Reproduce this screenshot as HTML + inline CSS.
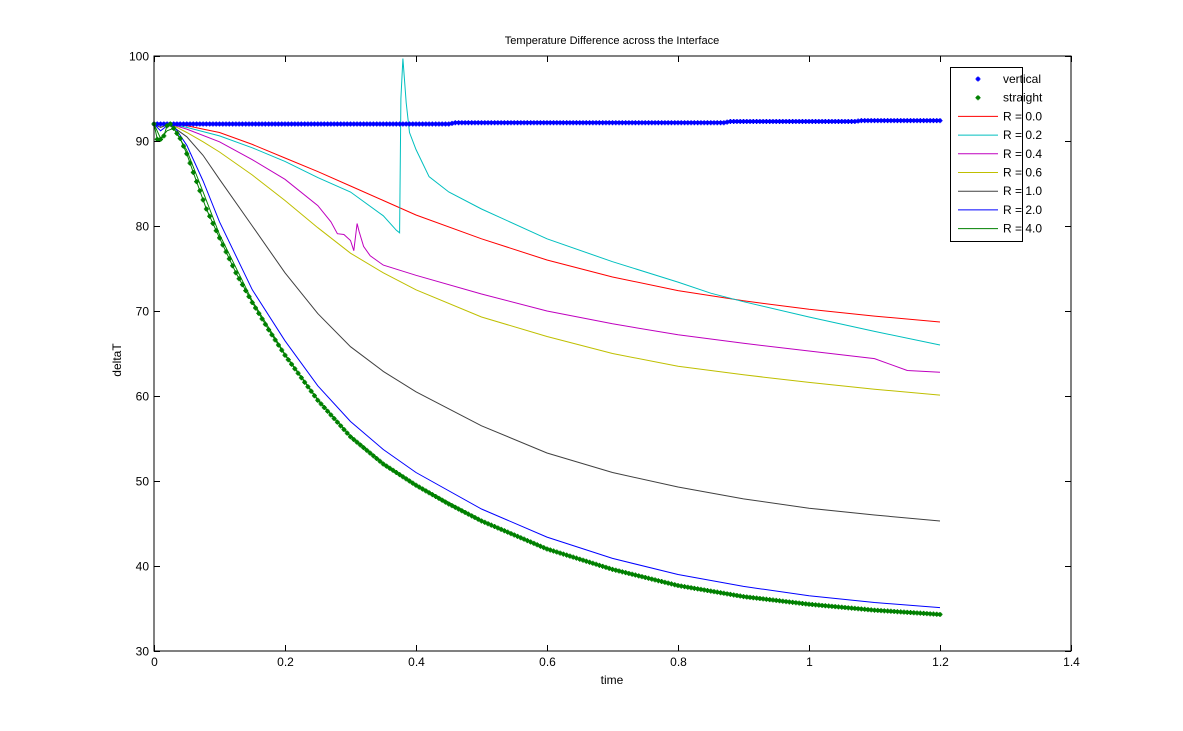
<!DOCTYPE html>
<html><head><meta charset="utf-8"><style>
html,body{margin:0;padding:0;background:#fff;}
svg{display:block;font-family:"Liberation Sans",Arial,sans-serif;}
</style></head><body>
<svg id="chart" width="1183" height="731" viewBox="0 0 1183 731" xmlns="http://www.w3.org/2000/svg">
<rect x="0" y="0" width="1183" height="731" fill="#fff"/>
<rect x="154" y="56" width="917" height="595" fill="#fff"/>
<g id="series"></g>
<g id="axes"></g>
<text x="612" y="44" font-size="11" text-anchor="middle">Temperature Difference across the Interface</text>
<text x="612" y="684" font-size="12" text-anchor="middle">time</text>
<text x="121" y="360" font-size="12" text-anchor="middle" transform="rotate(-90 121 360)">deltaT</text>
<g id="legend"></g>
</svg>
<script>
const xTicks=[0,0.2,0.4,0.6,0.8,1,1.2,1.4];
const yTicks=[30,40,50,60,70,80,90,100];
const legendLabels=["vertical","straight","R = 0.0","R = 0.2","R = 0.4","R = 0.6","R = 1.0","R = 2.0","R = 4.0"];
const tVertical=[0,0.2,0.4,0.45,0.46,0.6,0.8,0.87,0.88,1.0,1.07,1.08,1.2];
const vVertical=[92.0,92.0,92.0,92.0,92.15,92.15,92.15,92.15,92.3,92.3,92.3,92.4,92.4];
const tStraight=[0,0.005,0.01,0.015,0.02,0.025,0.03,0.04,0.05,0.06,0.08,0.1,0.125,0.15,0.175,0.2,0.25,0.3,0.35,0.4,0.45,0.5,0.6,0.7,0.8,0.9,1.0,1.1,1.2];
const vStraight=[92,90.2,90.2,90.6,91.8,92.0,91.5,90.3,88.5,86.3,82,78.6,74.5,71,67.8,64.8,59.5,55.2,52.0,49.5,47.3,45.3,42.0,39.6,37.7,36.4,35.5,34.8,34.3];
const tR=[0,0.01,0.02,0.03,0.05,0.075,0.1,0.15,0.2,0.25,0.3,0.35,0.4,0.5,0.6,0.7,0.8,0.9,1.0,1.1,1.2];
const vR00=[92,92,92.1,92.0,91.8,91.4,91.0,89.6,88.0,86.4,84.7,83.0,81.3,78.5,76.0,74.0,72.4,71.2,70.2,69.4,68.7];
const tR02=[0,0.02,0.05,0.1,0.15,0.2,0.25,0.3,0.35,0.37,0.375,0.377,0.38,0.385,0.39,0.4,0.42,0.45,0.5,0.6,0.7,0.8,0.85,0.9,1.0,1.1,1.2];
const vR02=[92,92.1,91.6,90.6,89.2,87.6,85.7,84.0,81.2,79.5,79.2,95.0,99.7,94.5,91.0,89.0,85.8,84.0,82.0,78.5,75.8,73.4,72.1,71.1,69.3,67.6,66.0];
const tR04=[0,0.02,0.05,0.1,0.15,0.2,0.25,0.27,0.28,0.29,0.3,0.305,0.31,0.313,0.32,0.33,0.35,0.4,0.5,0.6,0.7,0.8,0.9,1.0,1.1,1.15,1.2];
const vR04=[92,92.1,91.4,89.9,87.8,85.5,82.4,80.5,79.1,79.0,78.3,77.1,80.3,79.4,77.6,76.5,75.4,74.2,72.0,70.0,68.5,67.2,66.2,65.3,64.4,63.0,62.8];
const vR06=[92,92,92.1,91.8,91.0,89.9,88.7,86.0,83.0,79.8,76.8,74.5,72.5,69.3,67.0,65.0,63.5,62.5,61.6,60.8,60.1];
const vR10=[92,91.6,91.9,91.6,90.5,88.3,85.5,80.0,74.5,69.7,65.8,62.9,60.5,56.5,53.3,51.0,49.3,47.9,46.8,46.0,45.3];
const vR20=[92,91.2,91.8,91.8,89.5,85.3,80.5,72.5,66.5,61.2,57.0,53.7,51.0,46.7,43.4,40.9,39.0,37.6,36.5,35.7,35.1];
const vR40=[92,90.3,91.2,91.5,88.9,84.0,79.0,71.2,64.9,59.6,55.3,52.1,49.6,45.4,42.1,39.7,37.8,36.5,35.5,34.8,34.3];

const NS="http://www.w3.org/2000/svg";
const L=154,R=1071,T=56,B=651;
const xMin=0,xMax=1.4,yMin=30,yMax=100;
function sx(v){return L+(v-xMin)/(xMax-xMin)*(R-L);}
function sy(v){return B-(v-yMin)/(yMax-yMin)*(B-T);}
function mk(tag,attrs,parent){const e=document.createElementNS(NS,tag);for(const k in attrs)e.setAttribute(k,attrs[k]);parent.appendChild(e);return e;}
const axes=document.getElementById('axes');
const series=document.getElementById('series');
const legend=document.getElementById('legend');

// axes box
let box=mk('rect',{x:L,y:T,width:R-L,height:B-T,fill:'none',stroke:'#000','stroke-width':1},axes);


xTicks.forEach(v=>{
  const x=Math.round(sx(v))+0.5;
  let t=mk('path',{d:`M${x} ${B}V${B-6}M${x} ${T}V${T+6}`,stroke:'#000','stroke-width':1},axes);
  
  
  let lb=mk('text',{x:x,y:B+15,'font-size':12,'text-anchor':'middle'},axes);
  lb.textContent=String(v);
  
  
});
yTicks.forEach(v=>{
  const y=Math.round(sy(v))+0.5;
  let t=mk('path',{d:`M${L} ${y}H${L+6}M${R} ${y}H${R-6}`,stroke:'#000','stroke-width':1},axes);
  
  
  let lb=mk('text',{x:L-5,y:y+4,'font-size':12,'text-anchor':'end'},axes);
  lb.textContent=String(v);
  
  
});

function line(ts,vs,color,name){
  const d=ts.map((t,i)=>(i?'L':'M')+sx(t).toFixed(1)+' '+sy(vs[i]).toFixed(1)).join('');
  const p=mk('path',{d:d,fill:'none',stroke:color,'stroke-width':1},series);
  
  
}
function interp(ts,vs,t){
  for(let i=1;i<ts.length;i++){if(t<=ts[i]){const f=(t-ts[i-1])/(ts[i]-ts[i-1]);return vs[i-1]+f*(vs[i]-vs[i-1]);}}
  return vs[vs.length-1];
}
function markerPath(x,y){return `M${x-2.5} ${y}H${x+2.5}M${x} ${y-2.5}V${y+2.5}M${x-1.5} ${y-1.5}L${x+1.5} ${y+1.5}M${x-1.5} ${y+1.5}L${x+1.5} ${y-1.5}`;}
function markers(ts,vs,color,name){
  let d='';
  const n=240;
  for(let i=0;i<=n;i++){const t=ts[0]+(ts[ts.length-1]-ts[0])*i/n;d+=markerPath(sx(t),sy(interp(ts,vs,t)));}
  const p=mk('path',{d:d,fill:'none',stroke:color,'stroke-width':1.3},series);
  
  
}
const cR00='#ff0000',cR02='#00bfbf',cR04='#bf00bf',cR06='#bfbf00',cR10='#404040',cR20='#0000ff',cR40='#008000';
line(tR,vR00,cR00,'line-r-0-0');
line(tR02,vR02,cR02,'line-r-0-2');
line(tR04,vR04,cR04,'line-r-0-4');
line(tR,vR06,cR06,'line-r-0-6');
line(tR,vR10,cR10,'line-r-1-0');
line(tR,vR20,cR20,'line-r-2-0');
line(tR,vR40,cR40,'line-r-4-0');
line(tVertical,vVertical,'#0000ff','line-vertical');
markers(tVertical,vVertical,'#0000ff','markers-vertical');
line(tStraight,vStraight,'#008000','line-straight');
markers(tStraight,vStraight,'#008000','markers-straight');

// legend
let lbx=mk('rect',{x:950.5,y:67.5,width:72,height:174,fill:'#fff',stroke:'#000','stroke-width':1},legend);


const legColors=['#0000ff','#008000',cR00,cR02,cR04,cR06,cR10,cR20,cR40];
legendLabels.forEach((lab,i)=>{
  const y=79+i*18.7;
  const g=mk('g',{},legend);
  
  
  if(i<2){mk('path',{d:markerPath(978,y),stroke:legColors[i],'stroke-width':1.3,fill:'none'},g);}
  else{mk('path',{d:`M958 ${y}H998`,stroke:legColors[i],'stroke-width':1},g);}
  const t=mk('text',{x:i<2?1003:1003,y:y+4,'font-size':12},g);
  t.textContent=lab;
});
</script>
</body></html>
